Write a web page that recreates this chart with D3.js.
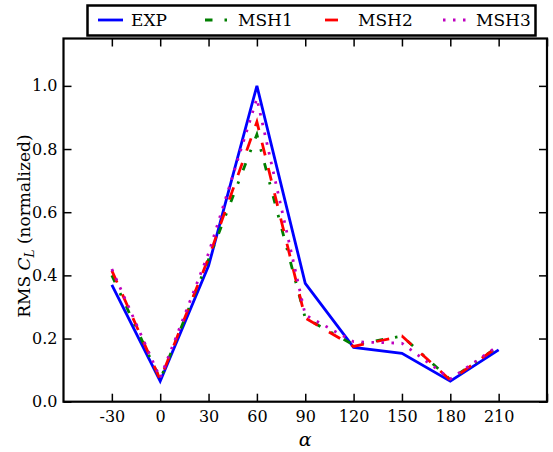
<!DOCTYPE html>
<html>
<head>
<meta charset="utf-8">
<script src="https://cdn.jsdelivr.net/npm/d3@7"></script>
<style>
  html, body { margin: 0; padding: 0; background: #fff; }
  svg { display: block; }
  text { font-family: "DejaVu Serif", serif; fill: #000; }
</style>
</head>
<body>
<svg id="chart" width="553" height="452"></svg>
<script>
// Angle of attack (deg)
const angles = [-30, 0, 30, 60, 90, 120, 150, 180, 210];
// RMS lift coefficient, normalized by the experimental peak
const exp  = [0.37, 0.065, 0.43, 1.0, 0.375, 0.172, 0.153, 0.065, 0.164];
const msh1 = [0.40, 0.07, 0.45, 0.846, 0.265, 0.18, 0.208, 0.07, 0.175];
const msh2 = [0.415, 0.07, 0.455, 0.886, 0.265, 0.175, 0.208, 0.068, 0.175];
const msh3 = [0.42, 0.075, 0.47, 0.96, 0.275, 0.19, 0.185, 0.072, 0.178];
const seriesNames = ["EXP", "MSH1", "MSH2", "MSH3"];
const xTicks = [-30, 0, 30, 60, 90, 120, 150, 180, 210, 240];
const xTickLabels = ["-30", "0", "30", "60", "90", "120", "150", "180", "210", ""];
const yTicks = [0.0, 0.2, 0.4, 0.6, 0.8, 1.0];

const series = [
  { name: seriesNames[0], values: exp,  color: "#0000ff", dash: null },
  { name: seriesNames[1], values: msh1, color: "#007f00", dash: "7.5,12,2.5,12" },
  { name: seriesNames[2], values: msh2, color: "#ff0000", dash: "13,13" },
  { name: seriesNames[3], values: msh3, color: "#bf00bf", dash: "2.5,7.5" }
];

const svg = d3.select("#chart");
const mLeft = 63.5, mRight = 547, mTop = 38.5, mBottom = 401.7;

const x = d3.scaleLinear().domain([-60, 240]).range([mLeft, mRight]);
const y = d3.scaleLinear().domain([0, 1.15]).range([mBottom, mTop]);

const tickLen = 8;

// Bottom axis with inward ticks
const xAxis = svg.append("g").attr("transform", `translate(0,${mBottom})`)
  .call(d3.axisBottom(x).tickValues(xTicks).tickSizeInner(-tickLen).tickSizeOuter(0)
    .tickPadding(9).tickFormat((d, i) => xTickLabels[i]));
// Top axis ticks
const xTop = svg.append("g").attr("transform", `translate(0,${mTop})`)
  .call(d3.axisTop(x).tickValues(xTicks).tickSizeInner(-tickLen).tickSizeOuter(0).tickFormat(""));
// Left axis
const yAxis = svg.append("g").attr("transform", `translate(${mLeft},0)`)
  .call(d3.axisLeft(y).tickValues(yTicks).tickSizeInner(-tickLen).tickSizeOuter(0)
    .tickPadding(6).tickFormat(d3.format(".1f")));
// Right axis ticks
const yRight = svg.append("g").attr("transform", `translate(${mRight},0)`)
  .call(d3.axisRight(y).tickValues(yTicks).tickSizeInner(-tickLen).tickSizeOuter(0).tickFormat(""));

[xAxis, xTop, yAxis, yRight].forEach(g => {
  g.select(".domain").remove();
  g.selectAll(".tick line").attr("stroke", "#000").attr("stroke-width", 1.5);
  g.selectAll(".tick text").style("font-family", "DejaVu Serif, serif").style("font-size", "16px").attr("fill", "#000");
});
xAxis.selectAll(".tick text").attr("dy", "0.71em");

// Frame
svg.append("rect")
  .attr("x", mLeft).attr("y", mTop)
  .attr("width", mRight - mLeft).attr("height", mBottom - mTop)
  .attr("fill", "none").attr("stroke", "#000").attr("stroke-width", 2.2);

// Series lines
const line = d3.line().x((d, i) => x(angles[i])).y(d => y(d));
const plot = svg.append("g");
series.forEach(s => {
  plot.append("path")
    .datum(s.values)
    .attr("d", line)
    .attr("fill", "none")
    .attr("stroke", s.color)
    .attr("stroke-width", 2.8)
    .attr("stroke-linejoin", "miter")
    .attr("stroke-linecap", "butt")
    .attr("stroke-dasharray", s.dash);
});

// Axis labels
svg.append("text")
  .attr("x", (mLeft + mRight) / 2).attr("y", 446)
  .attr("text-anchor", "middle")
  .style("font-size", "19px").style("font-style", "italic")
  .text("α");

const yl = svg.append("text")
  .attr("transform", `translate(30,${(mTop + mBottom) / 2 + 6}) rotate(-90)`)
  .attr("text-anchor", "middle")
  .style("font-size", "17px");
yl.append("tspan").text("RMS ");
yl.append("tspan").style("font-style", "italic").text("C");
yl.append("tspan").style("font-style", "italic").style("font-size", "12px").attr("dy", 4).text("L");
yl.append("tspan").attr("dy", -4).text(" (normalized)");

// Legend
const legend = svg.append("g");
legend.append("rect")
  .attr("x", 87.5).attr("y", 5.5).attr("width", 448).attr("height", 30)
  .attr("fill", "#fff").attr("stroke", "#000").attr("stroke-width", 2.5);
const legendX = [98, 205, 325, 443];
series.forEach((s, i) => {
  const lx = legendX[i];
  legend.append("line")
    .attr("x1", lx).attr("x2", lx + 25).attr("y1", 20).attr("y2", 20)
    .attr("stroke", s.color).attr("stroke-width", 2.8)
    .attr("stroke-dasharray", s.dash);
  legend.append("text")
    .attr("x", lx + 33).attr("y", 20).attr("dy", "0.36em")
    .style("font-size", "17px")
    .text(s.name);
});
</script>
</body>
</html>
